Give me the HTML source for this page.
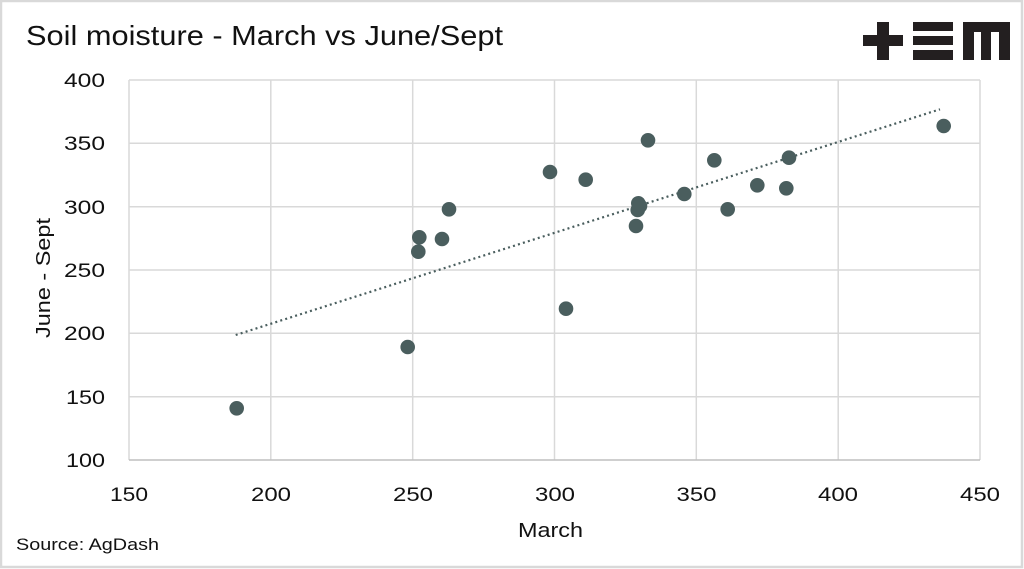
<!DOCTYPE html>
<html><head><meta charset="utf-8"><style>
html,body{margin:0;padding:0;background:#fff;}
svg{display:block;}
text{font-family:"Liberation Sans",sans-serif;fill:#111;}
</style></head><body>
<svg width="1024" height="569" viewBox="0 0 1024 569" xmlns="http://www.w3.org/2000/svg">
<rect x="1" y="1" width="1021" height="566" fill="#fff" stroke="#d9d9d9" stroke-width="2.5"/>
<text x="26" y="45" font-size="28" textLength="477" lengthAdjust="spacingAndGlyphs">Soil moisture - March vs June/Sept</text>
<!-- logo -->
<g fill="#231f20">
<rect x="863" y="35" width="40" height="11"/>
<rect x="877" y="22" width="12" height="38"/>
<rect x="913" y="22" width="40" height="9"/>
<rect x="913" y="36" width="40" height="9"/>
<rect x="913" y="50" width="40" height="10"/>
<rect x="963" y="22" width="47" height="10"/>
<rect x="963" y="22" width="11" height="38"/>
<rect x="981" y="22" width="10" height="38"/>
<rect x="999" y="22" width="11" height="38"/>
</g>
<!-- grid -->
<g stroke="#d9d9d9" stroke-width="1.5" fill="none">
<line x1="129" y1="80" x2="980" y2="80"/>
<line x1="129" y1="143.3" x2="980" y2="143.3"/>
<line x1="129" y1="206.7" x2="980" y2="206.7"/>
<line x1="129" y1="270" x2="980" y2="270"/>
<line x1="129" y1="333.3" x2="980" y2="333.3"/>
<line x1="129" y1="396.7" x2="980" y2="396.7"/>
<line x1="129" y1="80" x2="129" y2="460"/>
<line x1="270.8" y1="80" x2="270.8" y2="460"/>
<line x1="412.7" y1="80" x2="412.7" y2="460"/>
<line x1="554.5" y1="80" x2="554.5" y2="460"/>
<line x1="696.3" y1="80" x2="696.3" y2="460"/>
<line x1="838.2" y1="80" x2="838.2" y2="460"/>
<line x1="980" y1="80" x2="980" y2="460"/>
</g>
<line x1="129" y1="460" x2="980" y2="460" stroke="#bfbfbf" stroke-width="1.5"/>
<!-- y ticks -->
<g font-size="19">
<text x="64" y="87" textLength="41" lengthAdjust="spacingAndGlyphs">400</text>
<text x="64" y="150" textLength="41" lengthAdjust="spacingAndGlyphs">350</text>
<text x="64" y="214" textLength="41" lengthAdjust="spacingAndGlyphs">300</text>
<text x="64" y="277" textLength="41" lengthAdjust="spacingAndGlyphs">250</text>
<text x="64" y="340" textLength="41" lengthAdjust="spacingAndGlyphs">200</text>
<text x="66" y="404" textLength="39" lengthAdjust="spacingAndGlyphs">150</text>
<text x="66" y="467" textLength="39" lengthAdjust="spacingAndGlyphs">100</text>
</g>
<g font-size="19">
<text x="110" y="501" textLength="38" lengthAdjust="spacingAndGlyphs">150</text>
<text x="251" y="501" textLength="40" lengthAdjust="spacingAndGlyphs">200</text>
<text x="393" y="501" textLength="40" lengthAdjust="spacingAndGlyphs">250</text>
<text x="535" y="501" textLength="40" lengthAdjust="spacingAndGlyphs">300</text>
<text x="676.5" y="501" textLength="40" lengthAdjust="spacingAndGlyphs">350</text>
<text x="818" y="501" textLength="40" lengthAdjust="spacingAndGlyphs">400</text>
<text x="960" y="501" textLength="40" lengthAdjust="spacingAndGlyphs">450</text>
</g>
<text x="518" y="537" font-size="20" textLength="65" lengthAdjust="spacingAndGlyphs">March</text>
<text transform="translate(50,338) rotate(-90)" font-size="20" textLength="120" lengthAdjust="spacingAndGlyphs">June - Sept</text>
<text x="16" y="550" font-size="17" textLength="143" lengthAdjust="spacingAndGlyphs">Source: AgDash</text>
<!-- trendline -->
<line x1="235.7" y1="335" x2="940" y2="109.3" stroke="#4a5e5e" stroke-width="2.2" stroke-dasharray="2 3.2"/>
<!-- points -->
<g fill="#4a5e5e">
<circle cx="236.7" cy="408.3" r="7.3"/>
<circle cx="407.7" cy="347" r="7.3"/>
<circle cx="419.3" cy="237.3" r="7.3"/>
<circle cx="418.3" cy="251.7" r="7.3"/>
<circle cx="442" cy="239" r="7.3"/>
<circle cx="449" cy="209.3" r="7.3"/>
<circle cx="550" cy="172" r="7.3"/>
<circle cx="585.7" cy="179.7" r="7.3"/>
<circle cx="648" cy="140.3" r="7.3"/>
<circle cx="638.3" cy="203.3" r="7.3"/>
<circle cx="640" cy="206" r="7.3"/>
<circle cx="637.7" cy="210" r="7.3"/>
<circle cx="636" cy="226" r="7.3"/>
<circle cx="566" cy="308.7" r="7.3"/>
<circle cx="684.3" cy="194" r="7.3"/>
<circle cx="714.3" cy="160.3" r="7.3"/>
<circle cx="727.7" cy="209.3" r="7.3"/>
<circle cx="757.3" cy="185.3" r="7.3"/>
<circle cx="786.3" cy="188.3" r="7.3"/>
<circle cx="789" cy="157.7" r="7.3"/>
<circle cx="943.7" cy="126" r="7.3"/>
</g>
</svg>
</body></html>
